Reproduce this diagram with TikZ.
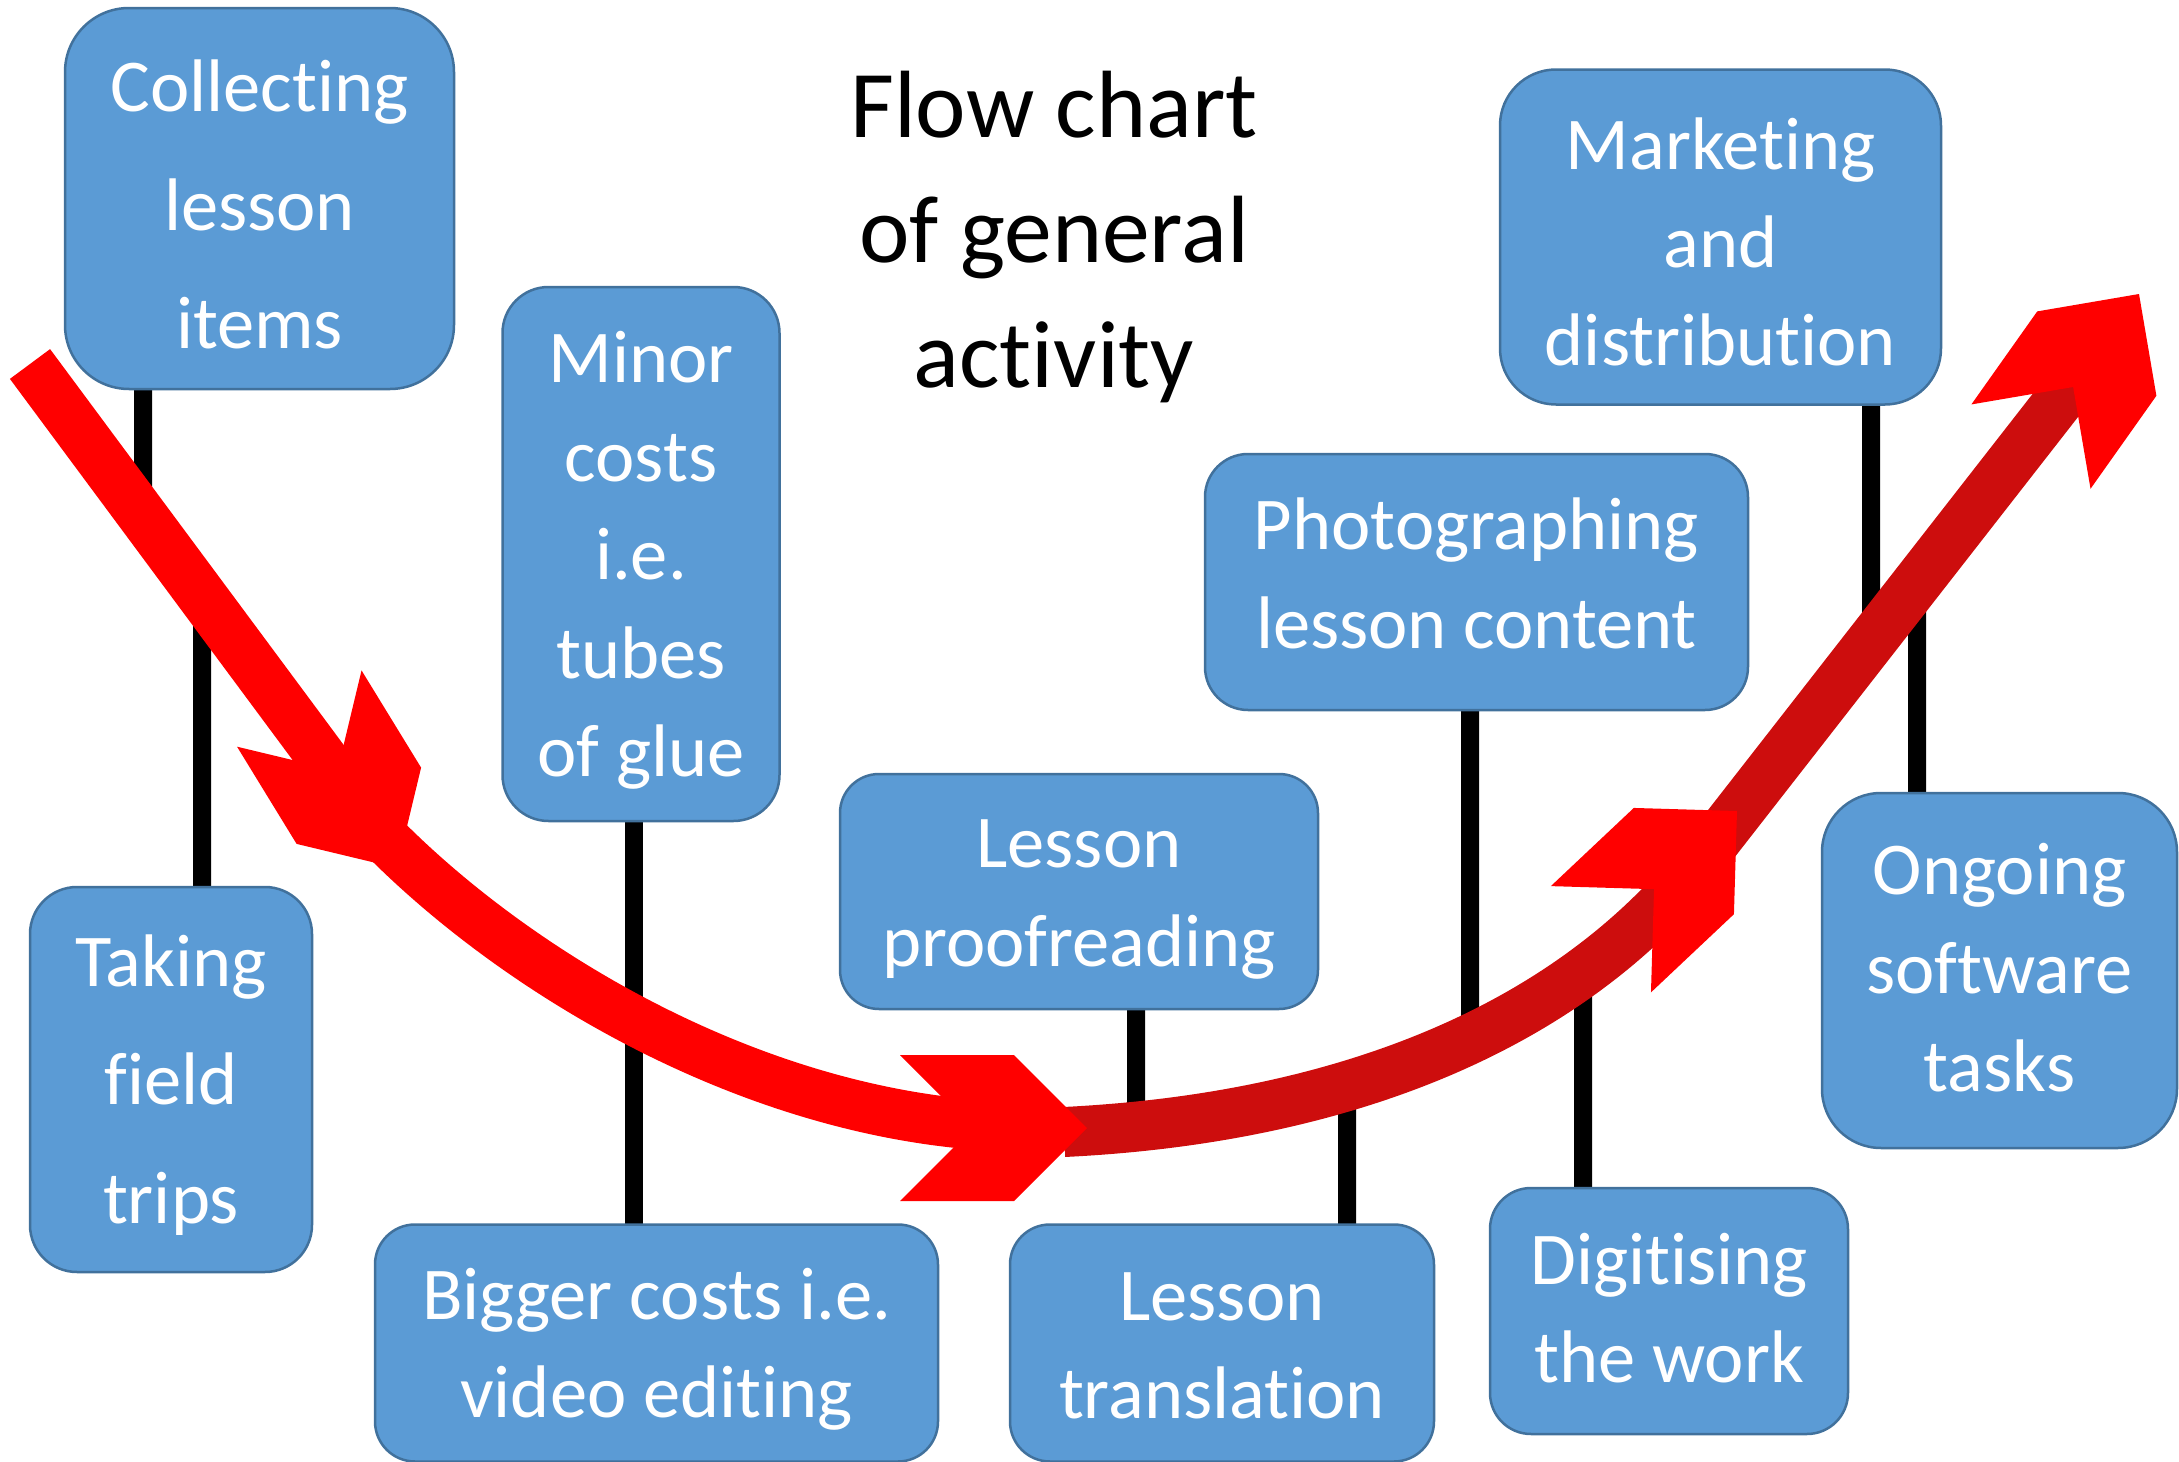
\documentclass[tikz,border=0pt]{standalone}
\usepackage{fontspec}
\setmainfont{Carlito}[Ligatures=NoCommon]
\definecolor{boxblue}{HTML}{5B9BD5}
\definecolor{boxedge}{HTML}{41719C}
\definecolor{headred}{HTML}{FF0000}
\definecolor{darkred}{HTML}{CD0D0D}
\newcommand{\topgap}[1]{\rule{0pt}{#1}}
\newcommand{\botgap}[1]{\rule[-#1]{0pt}{0pt}}

\begin{document}
\begin{tikzpicture}[x=0.1mm, y=-0.1mm,
    box/.style={draw=boxedge, line width=0.25mm, fill=boxblue, text=white, align=center,
      inner sep=0pt, rounded corners=4.1mm, font=\fontsize{21.2}{28}\selectfont},
    tall/.style={font=\fontsize{21.2}{33.7}\selectfont},
    link/.style={line width=1.8mm, black},
    band/.style={line width=5mm, headred},
    chev/.pic={\fill[headred] (0,0) -- (-73,73) -- (-187,73) -- (-114,0) -- (-187,-73) -- (-73,-73) -- cycle;}
  ]
  \useasboundingbox (0,0) rectangle (2179,1462);

  \node[font=\fontsize{27.2}{35.6}\selectfont, align=center] (title) at (1054,237) {Flow chart\\of general\\activity};

  \draw[link] (143,389) -- (143,516) -- (202,596) -- (202,887);
  \draw[link] (634,821) -- (634,1225);
  \draw[link] (1136,1009) -- (1136,1124) -- (1347,1087) -- (1347,1225);
  \draw[link] (1470,710) -- (1470,1041) -- (1583,968) -- (1583,1188);
  \draw[link] (1871,404) -- (1871,646) -- (1917,588) -- (1917,793);

  \node[box, tall, minimum width=38.9mm, minimum height=38.1mm, rounded corners=6.4mm] (coll) at (259.5,198.5) {\topgap{18.1pt}Collecting\\lesson\\items};
  \node[box, minimum width=27.7mm, minimum height=53.4mm, rounded corners=4.6mm] (minor) at (641,554) {\topgap{18.3pt}Minor\\costs\\i.e.\\tubes\\of glue};
  \node[box, tall, minimum width=28.2mm, minimum height=38.5mm, rounded corners=4.7mm] (taking) at (171,1079.5) {\topgap{17.8pt}Taking\\field\\trips};
  \node[box, minimum width=56.3mm, minimum height=23.7mm, rounded corners=4mm] (bigger) at (656.5,1343) {\topgap{18.3pt}Bigger costs i.e.\\video editing};
  \node[box, minimum width=47.8mm, minimum height=23.5mm, rounded corners=3.9mm] (proof) at (1079,891.5) {\topgap{18.1pt}Lesson\\proofreading};
  \node[box, minimum width=42.4mm, minimum height=23.7mm, rounded corners=4mm] (transl) at (1222,1343) {\topgap{15.2pt}Lesson\\translation};
  \node[box, minimum width=54.3mm, minimum height=25.6mm, rounded corners=4.3mm] (photo) at (1476.5,582) {Photographing\\lesson content\botgap{5pt}};
  \node[box, minimum width=35.8mm, minimum height=24.6mm] (digit) at (1669,1311) {Digitising\\the work\botgap{1.7pt}};
  \node[box, minimum width=44.1mm, minimum height=33.5mm, rounded corners=5.6mm] (market) at (1720.5,237) {\topgap{17.5pt}Marketing\\and\\distribution};
  \node[box, minimum width=35.5mm, minimum height=35.5mm, rounded corners=5.9mm] (ongoing) at (1999.5,970.5) {Ongoing\\software\\tasks\botgap{1.7pt}};

  \draw[band] (30,364) -- (366,817);
  \draw[band] (367,820) .. controls (503,966) and (760,1125) .. (1027,1127);
  \draw[band, darkred] (1064,1132) .. controls (1350,1118) and (1570,1024) .. (1700,861) -- (2104,343);

  \pic[rotate=-58.5] at (397,868) {chev};
  \pic at (1087,1128) {chev};
  \pic[rotate=43.3] at (1737,811) {chev};
  \pic[rotate=54.7] at (2139,294) {chev};
\end{tikzpicture}
\end{document}
